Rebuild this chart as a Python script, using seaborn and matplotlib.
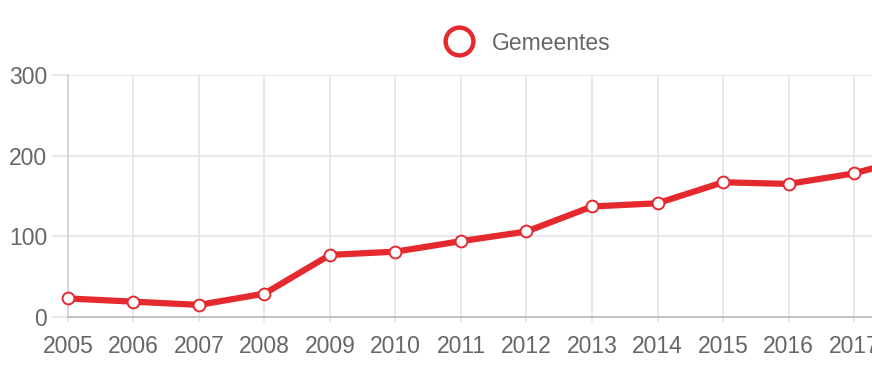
import matplotlib
matplotlib.use("Agg")
import matplotlib.pyplot as plt
from matplotlib.lines import Line2D
import seaborn as sns
import pandas as pd

years = [2005, 2006, 2007, 2008, 2009, 2010, 2011, 2012, 2013, 2014, 2015, 2016, 2017, 2018]
gemeentes = [23, 19, 15, 29, 77, 81, 94, 106, 137, 141, 167, 165, 178, 200]
series_label = "Gemeentes"
y_ticks = [0, 100, 200, 300]

df = pd.DataFrame({"year": years, "value": gemeentes})

sns.set_theme(style="whitegrid")
plt.rcParams["font.family"] = ["Liberation Sans", "DejaVu Sans"]

RED = "#e52a2f"
GRID = "#e2e2e2"
TXT = "#666666"

fig = plt.figure(figsize=(8.72, 3.72), dpi=100)
ax = fig.add_axes([68 / 872, 55 / 372, 1 - 68 / 872, (317 - 75) / 372])

sns.lineplot(data=df, x="year", y="value", ax=ax, color=RED, linewidth=4.5,
             marker="o", markersize=8.5, markerfacecolor="white",
             markeredgecolor=RED, markeredgewidth=1.4, legend=False,
             solid_joinstyle="round", solid_capstyle="round", clip_on=False,
             zorder=5)

ax.set_xticks(years)
ax.set_xticklabels([str(y) for y in years])
ax.set_yticks(y_ticks)
ax.set_xlim(2005, 2005 + (872 - 68) / 65.5)
ax.set_ylim(0, 300)
ax.set_xlabel("")
ax.set_ylabel("")

ax.grid(True, color=GRID, linewidth=1.1)
for s in ["top", "right"]:
    ax.spines[s].set_visible(False)
ax.spines["left"].set_visible(True)
ax.spines["left"].set_color("#cfcfcf")
ax.spines["left"].set_linewidth(1.1)
ax.spines["bottom"].set_visible(True)
ax.spines["bottom"].set_color("#bdbdbd")
ax.spines["bottom"].set_linewidth(1.3)

ax.tick_params(axis="y", length=11.5, width=1.1, color=GRID, pad=3.5,
               labelsize=16.5, labelcolor=TXT, left=True)
ax.tick_params(axis="x", length=3.6, width=1.1, color=GRID, pad=9.5,
               labelsize=16.5, labelcolor=TXT, bottom=True)

handle = Line2D([], [], linestyle="none", marker="o", markersize=20,
                markerfacecolor="white", markeredgecolor=RED, markeredgewidth=3.2)
fig.legend(handles=[handle], labels=[series_label], loc="center",
           bbox_to_anchor=(528 / 872, 1 - 43 / 372), frameon=False,
           fontsize=16.5, labelcolor=TXT, handlelength=1.2, handletextpad=0.85,
           borderpad=0)

fig.savefig("out.png", dpi=100)
